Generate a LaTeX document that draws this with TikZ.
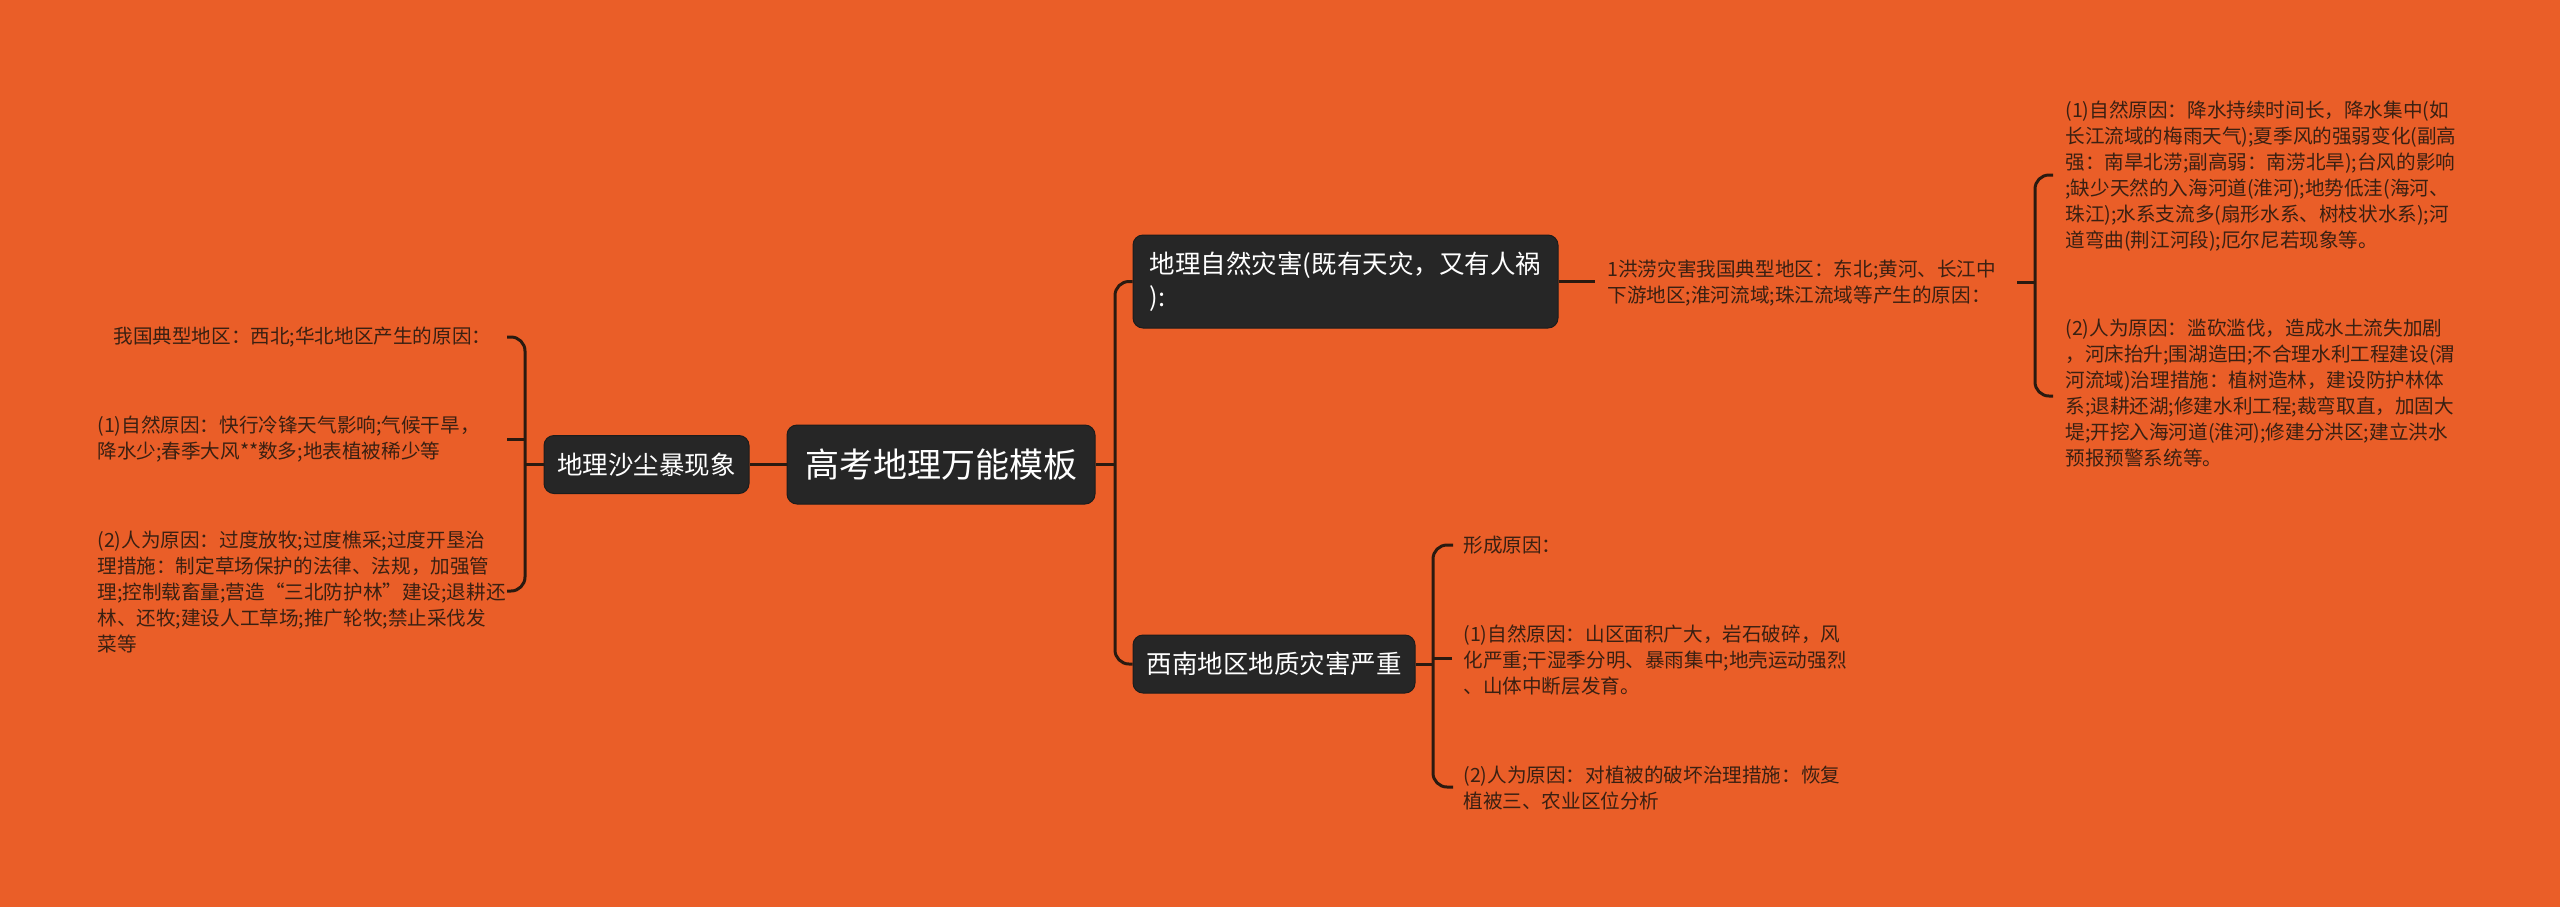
\documentclass[tikz,border=0pt]{standalone}
\usepackage{fontspec}
\setmainfont{Noto Sans CJK SC}
\definecolor{bg}{HTML}{EA5E28}
\definecolor{boxc}{HTML}{262626}
\definecolor{boxb}{HTML}{1C1C1C}
\definecolor{linec}{HTML}{2A1A10}
\definecolor{leafc}{HTML}{3A2012}
\begin{document}
\begin{tikzpicture}[x=0.5pt,y=-0.5pt,
  box/.style={fill=boxc, draw=boxb, line width=0.5pt, rounded corners=5pt, text=white, inner sep=0pt},
  midfont/.style={font=\fontsize{12.75pt}{16.5pt}\selectfont},
  leaf/.style={text=leafc, font=\fontsize{9.8pt}{13pt}\selectfont, align=left, anchor=west, inner sep=0pt},
  conn/.style={draw=linec, line width=1.5pt},
  brk/.style={conn, rounded corners=7pt}]
\fill[bg] (0,0) rectangle (2560,907);
\useasboundingbox (0,0) rectangle (2560,907);

% main boxes
\node[box, minimum width=154pt, minimum height=39.5pt, font=\fontsize{17pt}{20pt}\selectfont] (root) at (941,464.5) {高考地理万能模板};
\node[box, midfont, minimum width=102.5pt, minimum height=29pt] (sand) at (646.5,464.5) {地理沙尘暴现象};
\node[box, midfont, minimum width=212.5pt, minimum height=46.5pt, align=left] (nat) at (1345.5,281.5) {地理自然灾害(既有天灾，又有人祸\\):};
\node[box, midfont, minimum width=141pt, minimum height=29pt] (sw) at (1274,664) {西南地区地质灾害严重};

% left leaves
\node[leaf] (t1) at (113,337) {我国典型地区：西北;华北地区产生的原因：};
\node[leaf] (t2) at (97,439.5) {(1)自然原因：快行冷锋天气影响;气候干旱，\\降水少;春季大风**数多;地表植被稀少等};
\node[leaf] (t3) at (97,592) {(2)人为原因：过度放牧;过度樵采;过度开垦治\\理措施：制定草场保护的法律、法规，加强管\\理;控制载畜量;营造“三北防护林”建设;退耕还\\林、还牧;建设人工草场;推广轮牧;禁止采伐发\\菜等};

% right leaves
\node[leaf] (flood) at (1607,283.5) {1洪涝灾害我国典型地区：东北;黄河、长江中\\下游地区;淮河流域;珠江流域等产生的原因：};
\node[leaf] (f1) at (2065,176.5) {(1)自然原因：降水持续时间长，降水集中(如\\长江流域的梅雨天气);夏季风的强弱变化(副高\\强：南旱北涝;副高弱：南涝北旱);台风的影响\\;缺少天然的入海河道(淮河);地势低洼(海河、\\珠江);水系支流多(扇形水系、树枝状水系);河\\道弯曲(荆江河段);厄尔尼若现象等。};
\node[leaf] (f2) at (2065,393) {(2)人为原因：滥砍滥伐，造成水土流失加剧\\，河床抬升;围湖造田;不合理水利工程建设(渭\\河流域)治理措施：植树造林，建设防护林体\\系;退耕还湖;修建水利工程;裁弯取直，加固大\\堤;开挖入海河道(淮河);修建分洪区;建立洪水\\预报预警系统等。};
\node[leaf] (s0) at (1463,545) {形成原因：};
\node[leaf] (s1) at (1463,660) {(1)自然原因：山区面积广大，岩石破碎，风\\化严重;干湿季分明、暴雨集中;地壳运动强烈\\、山体中断层发育。};
\node[leaf] (s2) at (1463,788.5) {(2)人为原因：对植被的破坏治理措施：恢复\\植被三、农业区位分析};

% bracket coordinates
\coordinate (brL) at (525,464.5);
\coordinate (l1) at (507,337);
\coordinate (l2) at (507,439);
\coordinate (l3) at (507,591);
\coordinate (trunk) at (1115,464.5);
\coordinate (brF) at (2035,282);
\coordinate (fR) at (2017,282);
\coordinate (r1) at (2053,175);
\coordinate (r2) at (2053,396);
\coordinate (brS) at (1433,664);
\coordinate (s0e) at (1453,545);
\coordinate (s1e) at (1452,658);
\coordinate (s2e) at (1453,787);

% connectors
\draw[conn] (root.west) -- (sand.east);
\draw[conn] (sand.west) -- (brL);
\draw[brk] (l1) -| (brL) |- (l3);
\draw[conn] (l2) -- (l2 -| brL);

\draw[conn] (root.east) -- (trunk);
\draw[brk] (nat.west) -| (trunk) |- (sw.west);

\draw[conn] (nat.east) -- ([xshift=-6pt]flood.west |- nat.east);
\draw[conn] (fR) -- (brF);
\draw[brk] (r1) -| (brF) |- (r2);

\draw[conn] (sw.east) -- (brS);
\draw[brk] (s0e) -| (brS) |- (s2e);
\draw[conn] (s1e) -- (s1e -| brS);
\end{tikzpicture}
\end{document}
